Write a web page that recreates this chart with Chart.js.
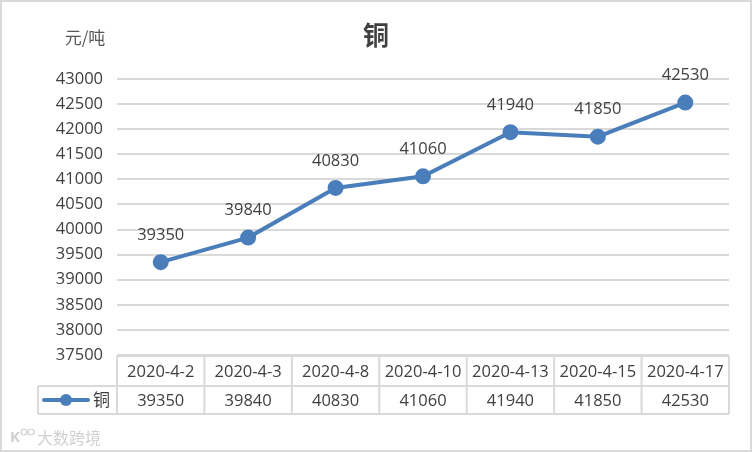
<!DOCTYPE html>
<html><head><meta charset="utf-8">
<script src="https://cdn.jsdelivr.net/npm/chart.js@4"></script>
<style>html,body{margin:0;padding:0;background:#fff}#w{width:752px;height:452px}</style>
</head><body><div id="w"><canvas id="c" width="752" height="452"></canvas></div>
<script>
const categories = ['2020-4-2','2020-4-3','2020-4-8','2020-4-10','2020-4-13','2020-4-15','2020-4-17'];
const copperValues = [39350,39840,40830,41060,41940,41850,42530];
const seriesName = '铜';
const chartTitle = '铜';
const unitLabel = '元/吨';
const yMin = 37500, yMax = 43000, yStep = 500;

const LINE = '#4a7ebb';
const GRID = '#d9d9d9';
const TXT = '#404040';
const NUMFONT = '"Open Sans", "Liberation Sans", sans-serif';
const CJK = '"Noto Sans CJK SC", sans-serif';

const decor = {
  id: 'decor',
  beforeDraw(chart) {
    const ctx = chart.ctx;
    ctx.save();
    ctx.fillStyle = '#fff';
    ctx.fillRect(0, 0, chart.width, chart.height);
    ctx.restore();
  },
  afterDraw(chart) {
    const ctx = chart.ctx;
    const x = chart.scales.x;
    const a = chart.chartArea;
    const colW = (a.right - a.left) / categories.length;
    const top = a.bottom + 1, mid = top + 30, bot = mid + 28;
    const legL = 38;
    ctx.save();
    // table lines
    ctx.strokeStyle = GRID;
    ctx.lineWidth = 2;
    ctx.beginPath();
    ctx.moveTo(a.left, top); ctx.lineTo(a.right, top);
    ctx.moveTo(legL, mid); ctx.lineTo(a.right, mid);
    ctx.moveTo(legL, bot); ctx.lineTo(a.right, bot);
    ctx.moveTo(legL, mid); ctx.lineTo(legL, bot);
    for (let i = 0; i <= categories.length; i++) {
      const px = a.left + i * colW;
      ctx.moveTo(px, top); ctx.lineTo(px, bot);
    }
    ctx.stroke();
    // table text
    ctx.fillStyle = TXT;
    ctx.font = '16.5px ' + NUMFONT;
    ctx.textAlign = 'center';
    ctx.textBaseline = 'middle';
    categories.forEach((c, i) => {
      const px = x.getPixelForValue(i);
      ctx.fillText(c, px, (top + mid) / 2 + 1);
      ctx.fillText(String(copperValues[i]), px, (mid + bot) / 2 + 1);
    });
    // legend key
    ctx.strokeStyle = LINE; ctx.lineWidth = 4; ctx.lineCap = 'round';
    ctx.beginPath(); ctx.moveTo(44, (mid + bot) / 2); ctx.lineTo(88, (mid + bot) / 2); ctx.stroke();
    ctx.fillStyle = LINE;
    ctx.beginPath(); ctx.arc(66, (mid + bot) / 2, 6, 0, Math.PI * 2); ctx.fill();
    ctx.fillStyle = TXT;
    ctx.font = '17px ' + CJK;
    ctx.textAlign = 'left';
    ctx.fillText(seriesName, 93, (mid + bot) / 2);
    // data labels
    const meta = chart.getDatasetMeta(0);
    ctx.font = '16.5px ' + NUMFONT;
    ctx.textAlign = 'center';
    ctx.fillStyle = TXT;
    meta.data.forEach((p, i) => {
      ctx.fillText(String(copperValues[i]), p.x, p.y - 27);
    });
    // title and unit
    ctx.font = '600 26px ' + CJK;
    ctx.fillStyle = '#404040';
    ctx.fillText(chartTitle, 376, 35);
    ctx.font = '17px ' + CJK;
    ctx.fillStyle = '#595959';
    ctx.fillText(unitLabel, 85, 38);
    // watermark
    ctx.font = '16px ' + CJK;
    ctx.fillStyle = '#d0d0d0';
    ctx.textAlign = 'left';
    ctx.fillText('大数跨境', 37, 438);
    ctx.font = 'bold 15px ' + NUMFONT;
    ctx.fillText('K', 10, 438);
    ctx.lineWidth = 1.2; ctx.strokeStyle = '#d0d0d0';
    ctx.beginPath(); ctx.arc(24, 432, 3, 0, Math.PI * 2); ctx.stroke();
    ctx.beginPath(); ctx.arc(31, 432, 3, 0, Math.PI * 2); ctx.stroke();
    // outer border
    ctx.strokeStyle = '#d9d9d9'; ctx.lineWidth = 2;
    ctx.strokeRect(1, 1, chart.width - 2, chart.height - 2);
    ctx.restore();
  }
};

new Chart(document.getElementById('c'), {
  type: 'line',
  data: {
    labels: categories,
    datasets: [{
      label: seriesName,
      data: copperValues,
      borderColor: LINE,
      backgroundColor: LINE,
      borderWidth: 4,
      pointRadius: 6,
      pointBackgroundColor: LINE,
      pointBorderColor: LINE,
      tension: 0,
      clip: false
    }]
  },
  options: {
    responsive: false,
    animation: false,
    devicePixelRatio: 1,
    layout: { padding: { left: 47, right: 23, top: 79, bottom: 97 } },
    plugins: { legend: { display: false }, title: { display: false }, tooltip: { enabled: false } },
    scales: {
      x: { type: 'category', offset: true, display: false },
      y: {
        min: yMin, max: yMax,
        ticks: { stepSize: yStep, padding: 14, color: TXT, font: { family: NUMFONT, size: 16.5 },
                 callback: v => String(v) },
        grid: { color: GRID, lineWidth: 2, drawTicks: false },
        border: { display: false },
        afterFit(s) { s.width = 70; }
      }
    }
  },
  plugins: [decor]
});
</script>
</body></html>
